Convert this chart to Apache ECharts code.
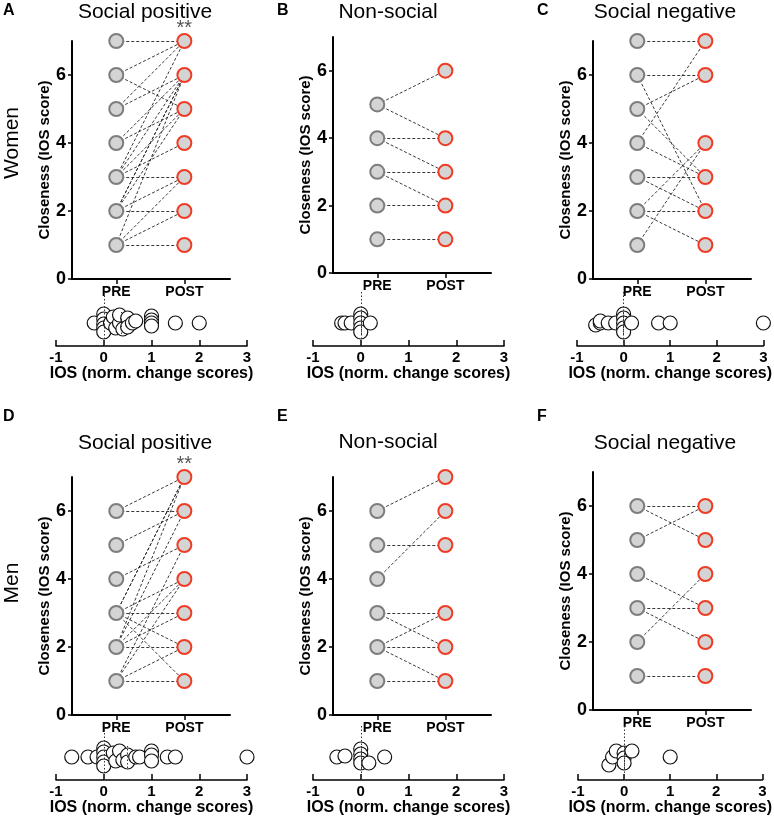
<!DOCTYPE html>
<html>
<head>
<meta charset="utf-8">
<script src="https://cdn.jsdelivr.net/npm/echarts@6/dist/echarts.min.js"></script>
<style>
  html, body { margin: 0; padding: 0; background: #fff; }
  #main { width: 774px; height: 818px; }
</style>
</head>
<body>
<div id="main"></div>
<script>
// panel titles / letters
var letters = ['A', 'B', 'C', 'D', 'E', 'F'];
var titles = ['Social positive', 'Non-social', 'Social negative', 'Social positive', 'Non-social', 'Social negative'];
var rowLabels = ['Women', 'Men'];
var prePostLabels = ['PRE', 'POST'];
var yTicks = [0, 2, 4, 6];
var stripTicks = [-1, 0, 1, 2, 3];

// PRE -> POST closeness per participant
var pairsA = [[7,7],[6,7],[6,5],[5,7],[5,6],[4,6],[4,5],[3,7],[3,6],[3,5],[3,4],[3,3],
              [2,6],[2,6],[2,5],[2,3],[2,2],[1,6],[1,3],[1,2],[1,1]];
var pairsB = [[5,6],[5,4],[4,4],[4,3],[3,3],[3,2],[2,2],[1,1]];
var pairsC = [[7,7],[6,6],[6,2],[5,6],[5,3],[4,7],[4,3],[3,3],[3,2],[2,4],[2,2],[2,1],[1,4]];
var pairsD = [[6,7],[6,6],[5,6],[4,5],[3,7],[3,7],[3,4],[3,3],[3,2],[3,1],[2,7],[2,6],
              [2,4],[2,3],[2,2],[1,5],[1,4],[1,2],[1,1]];
var pairsE = [[6,7],[5,5],[4,6],[3,3],[3,2],[2,3],[2,2],[2,1],[1,1]];
var pairsF = [[6,6],[6,5],[5,6],[4,3],[3,3],[3,2],[2,4],[1,1]];

// normalised change scores (strip plots) and their vertical spread
var stripA = [-0.2,0,0,0,0,0,0.14,0.2,0.25,0.33,0.33,0.4,0.5,0.5,0.6,0.67,1,1,1,1,1.5,2];
var jitA   = [0,9,4,-1,-5,-9,0,6,-5,0,8,-6,5,-4,0,2,7,3,0,-3,0,0];
var stripB = [-0.4,-0.33,-0.2,0,0,0,0,0,0.2];
var jitB   = [0,0,0,9,5,0,-5,-9,0];
var stripC = [-0.6,-0.5,-0.5,-0.33,-0.17,0,0,0,0,0,0.17,0.75,1,3];
var jitC   = [-2,0,2,0,0,9,5,0,-5,-9,0,0,0,0];
var stripD = [-0.67,-0.33,-0.14,0,0,0,0,0,0.2,0.25,0.33,0.4,0.5,0.5,0.67,0.75,1,1,1,1.33,1.5,3];
var jitD   = [0,0,0,9,5,0,-5,-9,4,-4,6,-3,2,-5,0,0,6,2,-4,0,0,0];
var stripE = [-0.5,-0.33,0,0,0,0,0.17,0.5];
var jitE   = [0,1,8,3,-2,-6,-6,0];
var stripF = [-0.33,-0.25,-0.17,0,0,0,0.17,1];
var jitF   = [-8,0,6,4,-1,-6,6,0];
var medians = [0.36, 0, 0, 0.5, 0, 0];
var starred = [0, 3];

var allPairs = [pairsA, pairsB, pairsC, pairsD, pairsE, pairsF];
var allStrip = [stripA, stripB, stripC, stripD, stripE, stripF];
var allJit = [jitA, jitB, jitC, jitD, jitE, jitF];

var FONT = '"Liberation Sans", Arial, sans-serif';

// layout (pixels)
var mainBox = [
  { left: 72, top: 41, bottom: 279 }, { left: 333, top: 37, bottom: 273 }, { left: 593, top: 41, bottom: 279 },
  { left: 72, top: 477, bottom: 715 }, { left: 333, top: 477, bottom: 715 }, { left: 593, top: 472, bottom: 710 }
];
var stripBox = [
  { left: 56, width: 191, axis: 346 }, { left: 313, width: 191, axis: 346 }, { left: 577, width: 190, axis: 346 },
  { left: 56, width: 191, axis: 780 }, { left: 313, width: 191, axis: 780 }, { left: 578, width: 190, axis: 780 }
];
var titleX = [145, 388, 665, 145, 388, 665];
var titleY = [12, 12, 12, 443, 442, 443];
var letterX = [3, 277, 537, 3, 277, 537];
var letterY = [11, 11, 11, 417, 417, 417];

function uniq(arr) {
  var out = [];
  arr.forEach(function (v) { if (out.indexOf(v) < 0) out.push(v); });
  return out;
}

function postX(mb) { return mb.left + 1.65 * 158 / 2.32; }

var grids = [], xAxes = [], yAxes = [], series = [], graphics = [];

for (var i = 0; i < 6; i++) {
  var mb = mainBox[i], sb = stripBox[i];
  var gMain = grids.length;
  grids.push({ left: mb.left, top: mb.top, width: 158, height: mb.bottom - mb.top });
  var gStrip = grids.length;
  grids.push({ left: sb.left, top: sb.axis - 54, width: sb.width, height: 54 });

  xAxes.push({
    gridIndex: gMain, type: 'value', min: -0.65, max: 1.67,
    axisLine: { show: true, onZero: false, lineStyle: { color: '#000', width: 2 } },
    axisTick: { show: true, customValues: [0, 1], length: 5, lineStyle: { color: '#000', width: 1.5 } },
    axisLabel: {
      customValues: [0, 1], margin: 6, color: '#000', fontFamily: FONT, fontWeight: 'bold', fontSize: 14,
      formatter: function (v) { return prePostLabels[Math.round(v)]; }
    },
    splitLine: { show: false }
  });
  yAxes.push({
    gridIndex: gMain, type: 'value', min: 0, max: 7,
    name: 'Closeness (IOS score)', nameLocation: 'middle', nameGap: 18,
    nameTextStyle: { color: '#000', fontFamily: FONT, fontWeight: 'bold', fontSize: 15 },
    axisLine: { show: true, onZero: false, lineStyle: { color: '#000', width: 2 } },
    axisTick: { show: true, customValues: yTicks, length: 4, lineStyle: { color: '#000', width: 1.5 } },
    axisLabel: { customValues: yTicks, margin: 6, color: '#000', fontFamily: FONT, fontWeight: 'bold', fontSize: 18 },
    splitLine: { show: false }
  });
  xAxes.push({
    gridIndex: gStrip, type: 'value', min: -1, max: 3, interval: 1,
    name: 'IOS (norm. change scores)', nameLocation: 'middle', nameGap: 20,
    nameTextStyle: { color: '#000', fontFamily: FONT, fontWeight: 'bold', fontSize: 16 },
    axisLine: { show: true, onZero: false, lineStyle: { color: '#000', width: 1.5 } },
    axisTick: { show: true, inside: true, length: 6, lineStyle: { color: '#000', width: 1.5 } },
    axisLabel: {
      margin: 4, color: '#000', fontFamily: FONT, fontWeight: 'bold', fontSize: 15,
      customValues: stripTicks
    },
    splitLine: { show: false }
  });
  yAxes.push({ gridIndex: gStrip, type: 'value', min: -23, max: 31, show: false });

  var pairs = allPairs[i];
  series.push({
    type: 'lines', coordinateSystem: 'cartesian2d', xAxisIndex: gMain, yAxisIndex: gMain,
    silent: true, z: 1,
    lineStyle: { color: '#222', width: 0.9, type: [3, 2], opacity: 1 },
    data: pairs.map(function (p) { return { coords: [[0, p[0]], [1, p[1]]] }; })
  });
  series.push({
    type: 'scatter', xAxisIndex: gMain, yAxisIndex: gMain, symbolSize: 14, z: 3, silent: true,
    itemStyle: { color: '#d4d4d4', borderColor: '#7d7d7d', borderWidth: 2, opacity: 1 },
    data: uniq(pairs.map(function (p) { return p[0]; })).map(function (v) { return [0, v]; })
  });
  series.push({
    type: 'scatter', xAxisIndex: gMain, yAxisIndex: gMain, symbolSize: 14, z: 3, silent: true,
    itemStyle: { color: '#d4d4d4', borderColor: '#ee3b24', borderWidth: 2, opacity: 1 },
    data: uniq(pairs.map(function (p) { return p[1]; })).map(function (v) { return [1, v]; })
  });

  var st = allStrip[i], jt = allJit[i];
  series.push({
    type: 'scatter', xAxisIndex: gStrip, yAxisIndex: gStrip, symbolSize: 14, z: 3, silent: true,
    itemStyle: { color: '#fff', borderColor: '#111', borderWidth: 1.2, opacity: 1 },
    data: st.map(function (v, k) { return [v, jt[k]]; }),
    markLine: {
      silent: true, symbol: 'none', label: { show: false }, z: 5,
      lineStyle: { color: '#333', width: 1, type: [1.5, 2] },
      data: [{ xAxis: 0 }]
    }
  });
  series.push({
    type: 'lines', coordinateSystem: 'cartesian2d', xAxisIndex: gStrip, yAxisIndex: gStrip,
    silent: true, z: 5,
    lineStyle: { color: '#333', width: 1, type: [1.5, 2], opacity: 1 },
    data: [{ coords: [[medians[i], -11], [medians[i], 11]] }]
  });

  graphics.push({
    type: 'text', silent: true,
    style: { text: titles[i], x: titleX[i], y: titleY[i], textAlign: 'center', textVerticalAlign: 'middle',
             font: '21px ' + FONT, fill: '#000' }
  });
  graphics.push({
    type: 'text', silent: true,
    style: { text: letters[i], x: letterX[i], y: letterY[i], textAlign: 'left', textVerticalAlign: 'middle',
             font: 'bold 16px ' + FONT, fill: '#000' }
  });
}

// "**" over POST column
starred.forEach(function (i) {
  var mb = mainBox[i];
  graphics.push({
    type: 'text', silent: true,
    style: { text: '**', x: postX(mb), y: mb.top - 13, textAlign: 'center', textVerticalAlign: 'middle',
             font: '20px ' + FONT, fill: '#555' }
  });
});

// row labels
[143, 583].forEach(function (y, r) {
  graphics.push({
    type: 'text', silent: true, rotation: Math.PI / 2, x: 12, y: y,
    style: { text: rowLabels[r], x: 0, y: 0, textAlign: 'center', textVerticalAlign: 'middle',
             font: '21px ' + FONT, fill: '#000' }
  });
});

var chart = echarts.init(document.getElementById('main'));
chart.setOption({
  backgroundColor: '#fff',
  animation: false,
  grid: grids,
  xAxis: xAxes,
  yAxis: yAxes,
  series: series,
  graphic: graphics
});
</script>
</body>
</html>
